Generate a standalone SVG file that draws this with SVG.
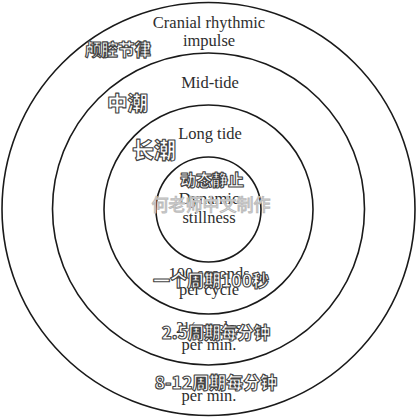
<svg xmlns="http://www.w3.org/2000/svg" width="417" height="418" viewBox="0 0 417 418">
<style>
.ring{fill:none;stroke:#1a1a1a;stroke-width:1.6}
.en{font-family:"Liberation Serif","Times New Roman",serif;font-size:16.5px;fill:#2e2e2e;text-anchor:middle}
.cn{font-family:"Noto Sans CJK SC","Noto Sans",sans-serif;font-weight:900;fill:#fff;stroke:#444;stroke-width:1.1;stroke-linejoin:round}
.wm{font-family:"Noto Sans CJK SC","Noto Sans",sans-serif;font-weight:400;fill:#fff;stroke:#bbb;stroke-width:1;text-anchor:middle}
</style>
<rect width="417" height="418" fill="#fff"/>
<g id="connectors"></g>
<g id="ring-cranial">
<circle class="ring" cx="208.5" cy="209" r="206.5"/>
<text class="en" x="209" y="28">Cranial rhythmic</text>
<text class="en" x="209" y="46">impulse</text>
<text class="en" x="209" y="401">per min.</text>
<text class="cn" x="85" y="56" font-size="16.5">颅腔节律</text>
<text class="cn" x="216" y="389" font-size="17" text-anchor="middle">8-12周期每分钟</text>
</g>
<g id="ring-mid">
<circle class="ring" cx="208.5" cy="209" r="156"/>
<text class="en" x="210" y="88">Mid-tide</text>
<text class="en" x="209" y="333">2½ cycles</text>
<text class="en" x="209" y="350">per min.</text>
<text class="cn" x="107" y="111" font-size="20.5">中潮</text>
<text class="cn" x="216" y="339" font-size="16.5" text-anchor="middle">2.5周期每分钟</text>
</g>
<g id="ring-long">
<circle class="ring" cx="208.5" cy="209.5" r="104.5"/>
<text class="en" x="210" y="139">Long tide</text>
<text class="en" x="209" y="279">100 seconds</text>
<text class="en" x="209" y="295">per cycle</text>
<text class="cn" x="132" y="158" font-size="22">长潮</text>
<text class="cn" x="211" y="287" font-size="17" text-anchor="middle">一个周期100秒</text>
</g>
<g id="ring-stillness">
<circle class="ring" cx="208.5" cy="209.5" r="52.5"/>
<text class="en" x="209" y="204">Dynamic</text>
<text class="en" x="209" y="223">stillness</text>
<text class="cn" x="180" y="186" font-size="16">动态静止</text>
</g>
<g id="watermark">
<text class="wm" x="211" y="211" font-size="17">何老师中文制作</text>
</g>
</svg>
